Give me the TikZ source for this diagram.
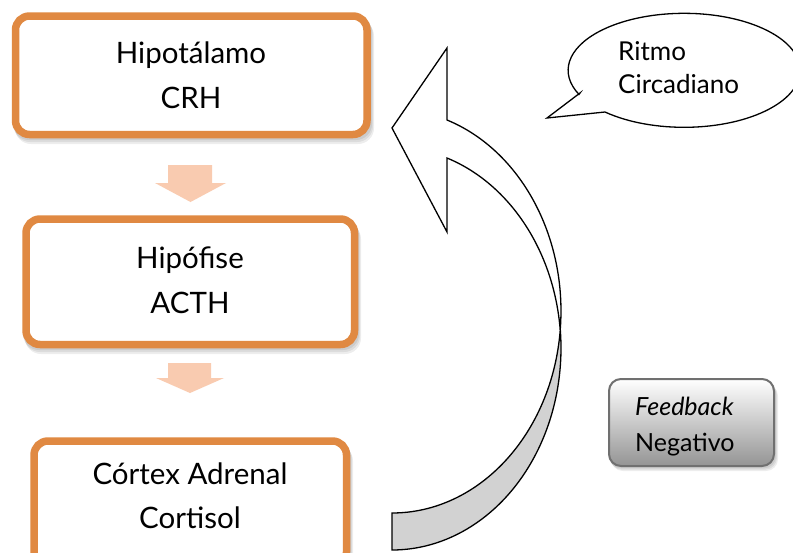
\documentclass[tikz,border=0pt]{standalone}
\usepackage{fontspec}
\setmainfont{Lato}
\definecolor{boxorange}{RGB}{224,137,66}
\definecolor{peach}{RGB}{249,203,176}
\definecolor{fbborder}{RGB}{112,112,112}
\tikzset{
  orangebox/.style={draw=boxorange, line width=7.5pt, fill=white, rounded corners=14pt, inner sep=0pt},
  boxtext/.style={anchor=base, inner sep=0pt, font=\fontsize{29.5}{34}\selectfont},
  bubbletext/.style={anchor=base west, inner sep=0pt, font=\fontsize{26}{30}\selectfont},
  fbtext/.style={anchor=base west, inner sep=0pt, font=\fontsize{25}{30}\selectfont},
  peacharrow/.style={fill=peach},
  outline/.style={draw=black, line width=1.3pt},
  softshadow/.style={fill=black, opacity=0.07, rounded corners=16pt},
}
\begin{document}
\begin{tikzpicture}[x=1pt,y=1pt,yscale=-1]
\useasboundingbox (0,0) rectangle (793,552);
\clip (0,0) rectangle (793,552);
\fill[white] (0,0) rectangle (793,552);

% shadows
\foreach \d in {2,4,6}{
  \fill[softshadow] (12+\d/2,14+\d) rectangle (371+\d/2,138+\d);
  \fill[softshadow] (22+\d/2,217+\d) rectangle (358+\d/2,348+\d);
  \fill[softshadow] (30+\d/2,439+\d) rectangle (350+\d/2,570+\d);
  \fill[softshadow, rounded corners=12pt] (608+\d/2,380+\d/1.5) rectangle (775+\d/2,467+\d/1.5);
}

% boxes
\node[orangebox, minimum width=351.5pt, minimum height=118.5pt] (b1) at (191.25,75.25) {};
\node[orangebox, minimum width=328.5pt, minimum height=125.5pt] (b2) at (190.25,281.75) {};
\node[orangebox, minimum width=312.5pt, minimum height=125pt] (b3) at (190.25,503.5) {};

\node[boxtext] (t1a) at (191,63) {Hipotálamo};
\node[boxtext] (t1b) at (191,108) {CRH};
\node[boxtext] (t2a) at (190,268) {Hipófise};
\node[boxtext] (t2b) at (190,313) {ACTH};
\node[boxtext] (t3a) at (190,484) {Córtex Adrenal};
\node[boxtext] (t3b) at (190,528) {Cortisol};

% peach arrows between boxes
\fill[peacharrow] (168,165) -- (212,165) -- (212,183) -- (226,183) -- (190.5,202) -- (155,183) -- (168,183) -- cycle;
\fill[peacharrow] (168,363) -- (211,363) -- (211,378) -- (224,378) -- (190,393) -- (156,378) -- (168,378) -- cycle;

% curved feedback arrow: back face
\filldraw[outline, fill=gray!35] (560.25,330) arc[start angle=5.4, end angle=90, x radius=169, y radius=202]
  -- (392,550) arc[start angle=90, end angle=-5.4, x radius=169, y radius=202] -- cycle;
% front face with head
\filldraw[outline, fill=white, line join=miter] (447,120) arc[start angle=-71, end angle=5.4, x radius=169, y radius=202]
  arc[start angle=-5.4, end angle=-71, x radius=169, y radius=202]
  -- (447,232) -- (392,128) -- (447,48) -- cycle;

% speech bubble
\filldraw[outline, fill=white] (580,93) -- (547,118) -- (605,112)
  arc[start angle=133, end angle=-205, x radius=116, y radius=57] -- cycle;
\node[bubbletext] (r1) at (618,60) {Ritmo};
\node[bubbletext] (r2) at (618,93) {Circadiano};

% feedback box
\node[draw=fbborder, line width=2pt, rounded corners=12pt, top color=white, bottom color=black!42,
      minimum width=165pt, minimum height=87pt] (fb) at (691.5,422.5) {};
\node[fbtext] (f1) at (635,415) {\itshape Feedback};
\node[fbtext] (f2) at (635,451) {Negativo};
\end{tikzpicture}
\end{document}
